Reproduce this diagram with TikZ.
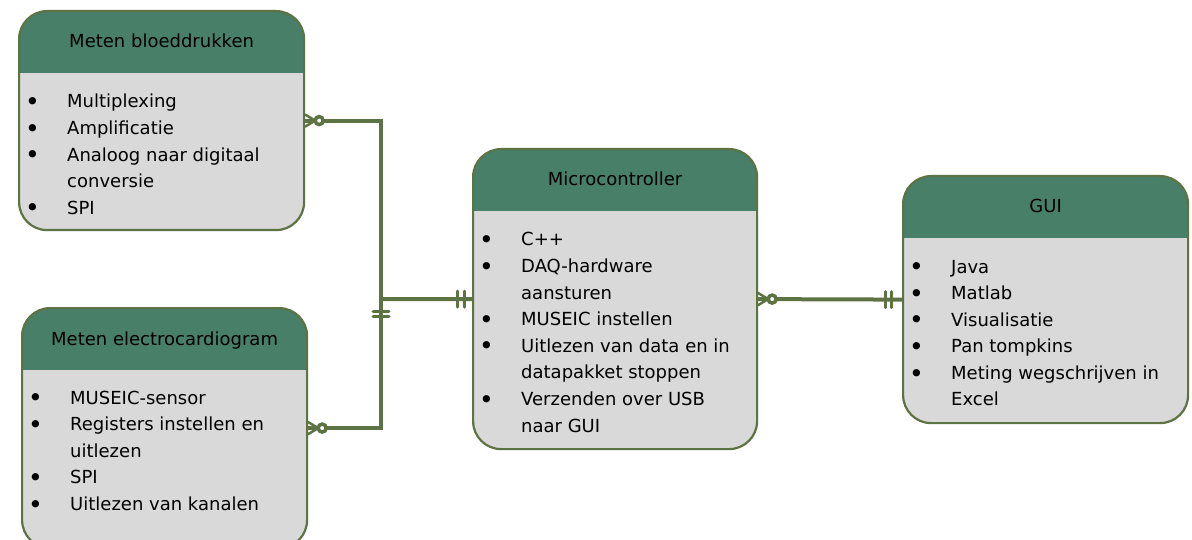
\documentclass[tikz,border=0pt]{standalone}
\usepackage{fontspec}
\setmainfont{DejaVu Sans}
\definecolor{hdrgreen}{HTML}{477F68}
\definecolor{bodygray}{HTML}{D9D9D9}
\definecolor{olive}{HTML}{5E7344}
% one list line with a bullet, one continuation line
\newcommand{\dotmark}{\raisebox{-2.6pt}{\fontsize{25pt}{25pt}\selectfont •}}
\newcommand{\li}[1]{\hbox{\makebox[41pt][l]{\hspace*{-1pt}\dotmark}#1}}
\newcommand{\lc}[1]{\hbox{\hspace*{41pt}#1}}
\tikzset{
  entity/.style={draw=olive, line width=2.2pt, fill=bodygray, rounded corners=28pt,
    minimum width=285pt, inner sep=0pt, anchor=north west,
    path picture={\fill[hdrgreen, sharp corners] (path picture bounding box.north west)
      rectangle ([yshift=-62pt]path picture bounding box.north east);}},
  title/.style={font=\fontsize{18pt}{22pt}\selectfont, anchor=base, inner sep=0pt, text=black},
  body/.style={font=\fontsize{18pt}{26.6pt}\selectfont, anchor=base west,
    inner sep=0pt, text=black},
  conn/.style={draw=olive, line width=4pt},
  bar/.style={draw=olive, line width=3pt, line cap=round},
  ring/.style={draw=olive, line width=3.5pt, fill=white},
  crow/.style={draw=olive, line width=2.5pt, line cap=round}
}
\begin{document}
\begin{tikzpicture}[x=1pt, y=-1pt]
\useasboundingbox[fill=white] (0,0) rectangle (1192,540);

% entities
\node[entity, minimum height=219pt] (b1) at (18,10) {};
\node[entity, minimum height=240pt] (b2) at (21,307) {};
\node[entity, minimum height=300pt, minimum width=284pt] (b3) at (472,148) {};
\node[entity, minimum height=247pt] (b4) at (902,175) {};

% titles
\node[title] (t1) at ([yshift=-38pt]b1.north) {Meten bloeddrukken};
\node[title] (t2) at ([yshift=-38pt]b2.north) {Meten electrocardiogram};
\node[title] (t3) at ([yshift=-38pt]b3.north) {Microcontroller};
\node[title] (t4) at ([yshift=-38pt]b4.north) {GUI};

% attribute lists
\node[body] (l1) at ([xshift=8pt,yshift=-98pt]b1.north west)
  {\vtop{\li{Multiplexing}\li{Amplificatie}\li{Analoog naar digitaal}\lc{conversie}\li{SPI}}};
\node[body] (l2) at ([xshift=8pt,yshift=-97pt]b2.north west)
  {\vtop{\li{MUSEIC-sensor}\li{Registers instellen en}\lc{uitlezen}\li{SPI}\li{Uitlezen van kanalen}}};
\node[body] (l3) at ([xshift=8pt,yshift=-98pt]b3.north west)
  {\vtop{\li{C++}\li{DAQ-hardware}\lc{aansturen}\li{MUSEIC instellen}\li{Uitlezen van data en in}\lc{datapakket stoppen}\li{Verzenden over USB}\lc{naar GUI}}};
\node[body] (l4) at ([xshift=8pt,yshift=-98pt]b4.north west)
  {\vtop{\li{Java}\li{Matlab}\li{Visualisatie}\li{Pan tompkins}\li{Meting wegschrijven in}\lc{Excel}}};

% relationships
\coordinate (jn) at (381,299);
\draw[conn] (b1.east) -| (jn) |- (b2.east);
\draw[conn] (jn) -- (b3.west);
\draw[conn] (b3.east) -- (b4.west);

% zero-or-many ends
\foreach \e in {b1, b2, b3} {
  \draw[crow] ([xshift=10pt]\e.east) -- ([yshift=6pt]\e.east)
              ([xshift=10pt]\e.east) -- ([yshift=-6pt]\e.east);
  \draw[ring] ([xshift=14pt]\e.east) circle (4pt);
}

% one-and-only-one ends
\foreach \d in {15,8} {
  \draw[bar] ([xshift=-\d pt, yshift=8pt]b3.west) -- ([xshift=-\d pt, yshift=-8pt]b3.west);
}
\foreach \d in {17,11} {
  \draw[bar] ([xshift=-\d pt, yshift=8pt]b4.west) -- ([xshift=-\d pt, yshift=-8pt]b4.west);
}
\foreach \d in {12,17} {
  \draw[bar] ([xshift=-8pt, yshift=-\d pt]jn) -- ([xshift=8pt, yshift=-\d pt]jn);
}
\end{tikzpicture}
\end{document}
